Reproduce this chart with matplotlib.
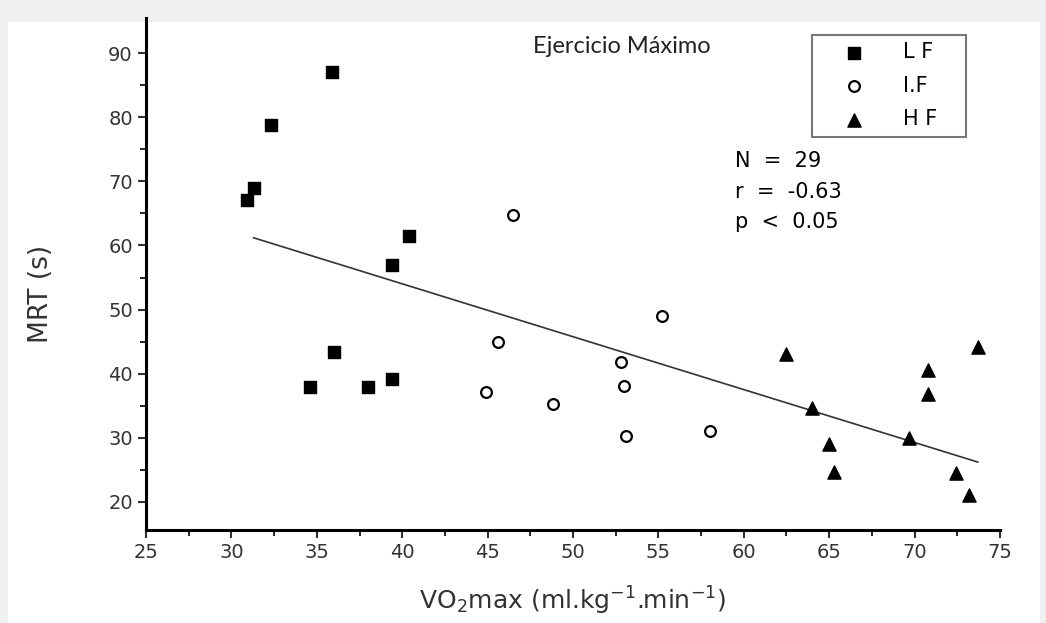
import numpy as np
import matplotlib
matplotlib.use("Agg")
from matplotlib import pyplot as plt
from matplotlib.patches import Rectangle

# Datos (VO2max, MRT)
lf_x = [30.9, 31.3, 32.3, 35.9, 39.4, 40.4, 36.0, 34.6, 38.0, 39.4]
lf_y = [67.1, 68.9, 78.8, 87.0, 57.0, 61.5, 43.3, 37.9, 37.9, 39.1]

if_x = [46.5, 45.6, 44.9, 48.8, 55.2, 52.8, 53.0, 53.1, 58.0]
if_y = [64.8, 45.0, 37.1, 35.3, 49.0, 41.8, 38.1, 30.2, 31.0]

hf_x = [62.5, 64.0, 65.0, 65.3, 69.7, 70.8, 70.8, 72.4, 73.2, 73.7]
hf_y = [43.0, 34.6, 29.0, 24.6, 30.0, 40.6, 36.8, 24.5, 21.0, 44.2]

# Linea de regresion
line_x = [31.3, 73.7]
line_y = [61.2, 26.2]

stats_text = "N  =  29\nr  =  -0.63\np  <  0.05"

fig = plt.figure(figsize=(10.46, 6.23), dpi=100)
fig.patch.set_facecolor("#f0f0f0")
fig.patches.append(Rectangle((8 / 1046, 0), 1032 / 1046, 601 / 623, transform=fig.transFigure,
                             facecolor="white", edgecolor="none", zorder=-10))

ax = fig.add_axes([0.1396, 0.1493, 0.8164, 0.8218])
ax.set_facecolor("none")

ax.plot(line_x, line_y, color="#333333", lw=1.2)
ax.scatter(lf_x, lf_y, marker="s", s=65, color="black", label="L F", zorder=3)
ax.scatter(if_x, if_y, marker="o", s=60, facecolor="white", edgecolor="black", linewidths=1.6,
           label="I.F", zorder=3)
ax.scatter(hf_x, hf_y, marker="^", s=90, color="black", label="H F", zorder=3)

ax.set_xlim(25, 75)
ax.set_ylim(15.6, 95.5)
ax.set_xticks(np.arange(25, 76, 5))
ax.set_yticks(np.arange(20, 91, 10))
ax.set_xticks(np.arange(27.5, 75, 5), minor=True)
ax.set_yticks(np.arange(25, 95, 10), minor=True)

for s in ["top", "right"]:
    ax.spines[s].set_visible(False)
for s in ["left", "bottom"]:
    ax.spines[s].set_linewidth(2.2)

ax.tick_params(direction="out", length=6, width=1.5, labelsize=14, colors="#333333")
ax.tick_params(which="minor", direction="out", length=4, width=1.2)

ax.set_xlabel("VO$_2$max (ml.kg$^{-1}$.min$^{-1}$)", fontsize=18, color="#333333", labelpad=16)
ax.set_ylabel("MRT (s)", fontsize=19, color="#333333")
ax.yaxis.set_label_coords(-0.108, 0.461)

ax.text(0.557, 0.944, "Ejercicio Máximo", transform=ax.transAxes, fontsize=17,
        ha="center", va="center", family="Lato", color="#222222")
ax.text(0.69, 0.74, stats_text, transform=ax.transAxes, fontsize=15, va="top", linespacing=1.65)

leg = ax.legend(loc="upper left", bbox_to_anchor=(0.780, 0.5, 0.180, 0.467), mode="expand",
                fontsize=15, frameon=True, fancybox=False, edgecolor="#555555", borderpad=0.35,
                handlelength=3.3, handletextpad=0.7, labelspacing=0.65, borderaxespad=0)
leg.get_frame().set_linewidth(1.5)

fig.savefig("out.png", dpi=100, facecolor=fig.get_facecolor())
